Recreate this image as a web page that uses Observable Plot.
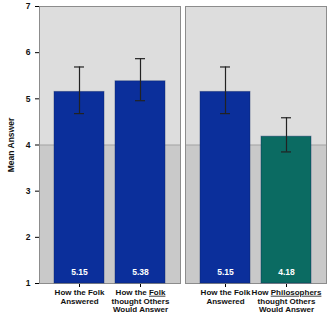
<!DOCTYPE html>
<html>
<head>
<meta charset="utf-8">
<script src="https://cdn.jsdelivr.net/npm/d3@7"></script>
<script src="https://cdn.jsdelivr.net/npm/@observablehq/plot@0.6"></script>
<style>
  html, body { margin: 0; padding: 0; background: #fff; }
</style>
</head>
<body>
<div id="chart"></div>
<script>
// ---- data ----
const panels = ["left", "left", "right", "right"];
const slots = ["first", "second", "first", "second"];
const conditions = [
  "How the Folk\nAnswered",
  "How the Folk\nthought Others\nWould Answer",
  "How the Folk\nAnswered",
  "How Philosophers\nthought Others\nWould Answer"
];
const underlined = ["", "Folk", "", "Philosophers"];
const means = [5.15, 5.38, 5.15, 4.18];
const lower = [4.68, 4.96, 4.68, 3.85];
const upper = [5.69, 5.87, 5.69, 4.59];
const barColors = ["#0b2f9b", "#0b2f9b", "#0b2f9b", "#0b6b62"];
const yTicks = [1, 2, 3, 4, 5, 6, 7];
const yDomain = [1, 7];
const midline = 4;

const data = panels.map((p, i) => ({
  panel: p, slot: slots[i], label: conditions[i], mean: means[i],
  lo: lower[i], hi: upper[i], color: barColors[i], under: underlined[i]
}));

const chart = Plot.plot({
  width: 328,
  height: 317,
  marginLeft: 38,
  marginRight: 2,
  marginTop: 6,
  marginBottom: 34,
  style: { fontFamily: "'Liberation Sans', Arial, sans-serif", background: "#fff" },
  fx: { axis: null, padding: 0.035 },
  x: { paddingInner: 0.175, paddingOuter: 0.23, tickFormat: () => "", tickSize: 4, line: true, label: null },
  y: { domain: yDomain, ticks: yTicks, tickFormat: d3.format("d"), tickSize: 4, line: true,
       label: "Mean Answer", labelAnchor: "center", labelOffset: 32, labelArrow: "none" },
  marks: [
    Plot.barY([0], { y1: midline, y2: yDomain[1], fill: "#dddddd" }),
    Plot.barY([0], { y1: yDomain[0], y2: midline, fill: "#c9c9c9" }),
    Plot.ruleY([midline], { stroke: "#a3a3a3" }),
    Plot.frame({ stroke: "#8c8c8c" }),
    Plot.barY(data, { fx: "panel", x: "slot", y1: yDomain[0], y2: "mean", fill: "color", stroke: "#0a235f", strokeOpacity: 0.4 }),
    Plot.ruleX(data, { fx: "panel", x: "slot", y1: "lo", y2: "hi", stroke: "#222", strokeWidth: 1.2 }),
    Plot.tickY(data, { fx: "panel", x: "slot", y: "hi", stroke: "#222", strokeWidth: 1.2, insetLeft: 20, insetRight: 20 }),
    Plot.tickY(data, { fx: "panel", x: "slot", y: "lo", stroke: "#222", strokeWidth: 1.2, insetLeft: 20, insetRight: 20 }),
    Plot.text(data, { fx: "panel", x: "slot", text: d => d.mean.toFixed(2), frameAnchor: "bottom", dy: -9,
                      fill: "#fff", fontWeight: "bold", fontSize: 8.5 }),
    Plot.text(data, { fx: "panel", x: "slot", text: "label", frameAnchor: "bottom", dy: 5, lineAnchor: "top",
                      lineHeight: 1.1, fill: "#111", fontWeight: "bold", fontSize: 8 })
  ]
});

// bold axis text
const svg = d3.select(chart);
svg.selectAll("[aria-label='y-axis tick label']").attr("font-weight", "bold").attr("font-size", 8.5).attr("fill", "#111");
svg.selectAll("[aria-label='y-axis label']").attr("font-weight", "bold").attr("font-size", 8.5).attr("fill", "#111");
svg.selectAll("[aria-label='y-axis label'] text").each(function () {
  this.textContent = this.textContent.replace(/[\u2190-\u2193]/g, "").trim();
});

// underline words in labels
svg.selectAll("text").each(function () {
  const t = this.textContent;
  const d = data.find(e => e.under && e.label.replace(/\n/g, "") === t);
  if (!d) return;
  d3.select(this).selectAll("tspan").each(function () {
    const s = this.textContent;
    const k = s.indexOf(d.under);
    if (k < 0) return;
    const sel = d3.select(this);
    sel.text(null);
    sel.append("tspan").text(s.slice(0, k));
    sel.append("tspan").attr("text-decoration", "underline").text(d.under);
    sel.append("tspan").text(s.slice(k + d.under.length));
  });
});

document.getElementById("chart").appendChild(chart);
</script>
</body>
</html>
